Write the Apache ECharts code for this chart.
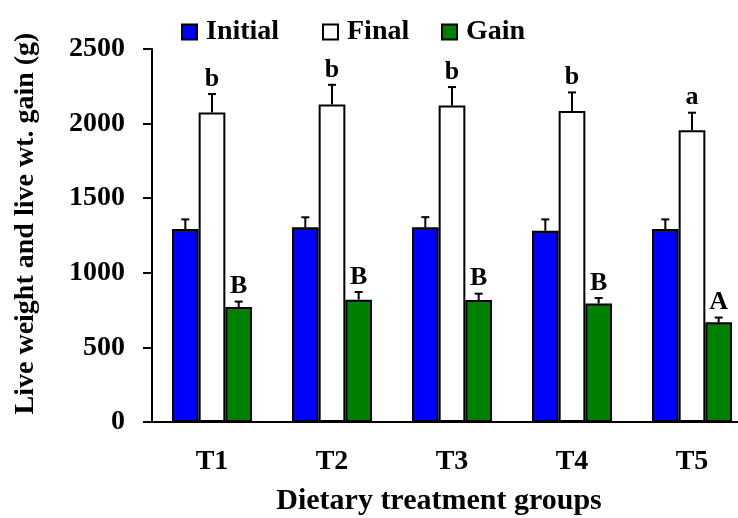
<!DOCTYPE html>
<html>
<head>
<meta charset="utf-8">
<script src="https://cdn.jsdelivr.net/npm/echarts@6/dist/echarts.min.js"></script>
<style>
html,body{margin:0;padding:0;background:#fff;}
#chart{width:738px;height:518px;}
</style>
</head>
<body>
<div id="chart"></div>
<script>
var categories = ['T1', 'T2', 'T3', 'T4', 'T5'];
var initialValues = [1293, 1305, 1305, 1282, 1293];
var initialErr = [65, 67, 68, 76, 65];
var finalValues = [2075, 2128, 2122, 2084, 1956];
var finalErr = [123, 132, 123, 125, 117];
var gainValues = [770, 820, 817, 795, 668];
var gainErr = [37, 51, 43, 36, 32];
var finalLetters = ['b', 'b', 'b', 'b', 'a'];
var gainLetters = ['B', 'B', 'B', 'B', 'A'];
var yTicks = [0, 500, 1000, 1500, 2000, 2500];

var FONT = '"Liberation Serif", "Times New Roman", serif';
var colors = ['#0000FF', '#FFFFFF', '#008000'];
var seriesNames = ['Initial', 'Final', 'Gain'];
var legendLefts = [176, 317, 436];
var values = [initialValues, finalValues, gainValues];
var errs = [initialErr, finalErr, gainErr];
var letters = [null, finalLetters, gainLetters];
var GAP = 1 / 3;

var chart = echarts.init(document.getElementById('chart'), null, {renderer: 'canvas'});

var series = [];
values.forEach(function (vals, i) {
  series.push({
    name: seriesNames[i],
    type: 'bar',
    data: vals,
    barGap: '0%',
    barCategoryGap: '33.3%',
    itemStyle: {color: colors[i], borderColor: '#000', borderWidth: 2},
    emphasis: {disabled: true},
    z: 2
  });
});

var errData = [];
for (var s = 0; s < 3; s++) {
  for (var c = 0; c < categories.length; c++) {
    errData.push([c, values[s][c], errs[s][c], s, letters[s] ? letters[s][c] : '']);
  }
}

series.push({
  type: 'custom',
  name: 'err',
  data: errData,
  encode: {x: 0, y: 1},
  z: 5,
  silent: true,
  renderItem: function (params, api) {
    var c = api.value(0), v = api.value(1), e = api.value(2), s = api.value(3);
    var lt = errData[params.dataIndex][4];
    var band = api.size([1, 0])[0];
    var bw = band * (1 - GAP) / 3;
    var base = api.coord([c, v]);
    var top = api.coord([c, v + e]);
    var x = base[0] + (s - 1) * bw;
    var children = [
      {type: 'line', shape: {x1: x, y1: base[1], x2: x, y2: top[1]}, style: {stroke: '#000', lineWidth: 2}},
      {type: 'line', shape: {x1: x - 4, y1: top[1], x2: x + 4, y2: top[1]}, style: {stroke: '#000', lineWidth: 2}}
    ];
    if (lt) {
      children.push({type: 'text', x: x, y: top[1] - 2, style: {text: lt, fill: '#000', font: 'bold 26px ' + FONT, align: 'center', verticalAlign: 'bottom'}});
    }
    return {type: 'group', children: children};
  }
});

var legends = seriesNames.map(function (n, i) {
  return {
    data: [n],
    left: legendLefts[i], top: 13,
    itemWidth: 15, itemHeight: 15,
    icon: 'rect',
    selectedMode: false,
    textStyle: {fontFamily: FONT, fontSize: 28, fontWeight: 'bold', color: '#000', padding: [0, 0, 0, 4]}
  };
});

chart.setOption({
  animation: false,
  backgroundColor: '#fff',
  textStyle: {fontFamily: FONT},
  legend: legends,
  grid: {left: 152, top: 49, width: 600, bottom: 96, containLabel: false, outerBoundsMode: 'none'},
  xAxis: {
    type: 'category',
    data: categories,
    name: 'Dietary treatment groups',
    nameLocation: 'middle',
    nameGap: 64,
    nameTextStyle: {fontFamily: FONT, fontSize: 30, fontWeight: 'bold', color: '#000', padding: [0, 26, 0, 0]},
    axisLine: {lineStyle: {color: '#000', width: 2}},
    axisTick: {length: 7, lineStyle: {color: '#000', width: 2}},
    axisLabel: {fontFamily: FONT, fontSize: 28, fontWeight: 'bold', color: '#000', margin: 26}
  },
  yAxis: {
    type: 'value',
    min: 0, max: 2500, interval: 500,
    name: 'Live weight and live wt. gain (g)',
    nameLocation: 'middle',
    nameGap: 112,
    nameTextStyle: {fontFamily: FONT, fontSize: 28, fontWeight: 'bold', color: '#000', padding: [0, 0, 0, 24]},
    axisLine: {show: true, lineStyle: {color: '#000', width: 2}},
    axisTick: {show: true, length: 9, lineStyle: {color: '#000', width: 2}},
    splitLine: {show: false},
    axisLabel: {fontFamily: FONT, fontSize: 28, fontWeight: 'bold', color: '#000', margin: 27,
      formatter: function (v) { return yTicks.indexOf(v) >= 0 ? String(v) : ''; }}
  },
  series: series
});
</script>
</body>
</html>
